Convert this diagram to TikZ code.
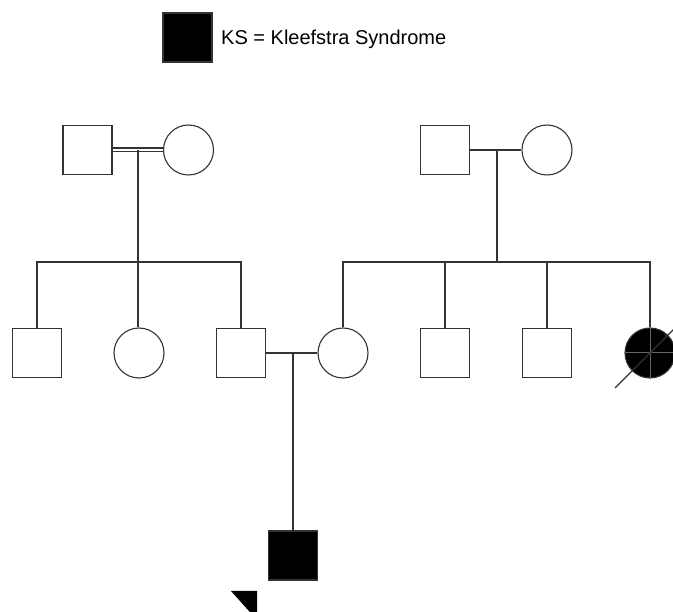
\documentclass[tikz,border=0pt]{standalone}
\usepackage{fontspec}
\setmainfont{Liberation Sans}
\begin{document}
\begin{tikzpicture}[x=1pt,y=-1pt,
  ln/.style={draw=black!80,line width=1.1pt},
  male/.style={ln,rectangle,minimum size=49pt,inner sep=0pt,fill=white},
  female/.style={ln,circle,minimum size=50pt,inner sep=0pt,fill=white},
  aff/.style={fill=black}]
\useasboundingbox (0,0) rectangle (673,612);
\clip (0,0) rectangle (673,612);
% legend
\node[male,aff] (leg) at (187.5,37.5) {};
\node[anchor=west,font=\fontsize{20}{24}\selectfont,inner sep=0pt] (legt) at (221,39) {KS = Kleefstra Syndrome};
% generation I
\node[male] (g1) at (87.5,150) {};
\node[female] (g2) at (188.5,150) {};
\node[male] (g3) at (445,150) {};
\node[female] (g4) at (547,150) {};
\coordinate (m1) at (138,150);
\coordinate (m2) at (497,150);
\draw[ln,double=white,double distance=2.8pt] (g1.east) -- (g2.west);
\draw[ln] (g3.east) -- (g4.west);
% generation II
\node[male] (c1) at (37,353) {};
\node[female] (c2) at (139,353) {};
\node[male] (c3) at (241,353) {};
\node[female] (c4) at (343,353) {};
\node[male] (c5) at (445,353) {};
\node[male] (c6) at (547,353) {};
\node[female,aff] (c7) at (650,353) {};
\coordinate (s1) at (138,262);
\coordinate (s2) at (497,262);
\draw[ln] (m1) -- (s1);
\draw[ln] (m2) -- (s2);
\draw[ln] (c1.north) |- (s1) -| (c3.north);
\draw[ln] (s1) -- (s1 |- c2.north);
\draw[ln] (c4.north) |- (s2) -| (c7.north);
\draw[ln] (c5.north) -- (c5.north |- s2);
\draw[ln] (c6.north) -- (c6.north |- s2);
% deceased marks
\draw[black!60,line width=1pt] (c7.north) -- (c7.south) (c7.west) -- (c7.east);
\coordinate (dA) at (615,388);
\coordinate (dB) at (690,313);
\draw[ln] (dA) -- (dB);
% marriage and proband
\coordinate (m3) at (293,353);
\draw[ln] (c3.east) -- (c4.west);
\node[male,aff] (p) at (293,555.5) {};
\draw[ln] (m3) -- (p.north);
\fill (231,591) -- (257,591) -- (257,620) -- cycle;
\end{tikzpicture}
\end{document}
